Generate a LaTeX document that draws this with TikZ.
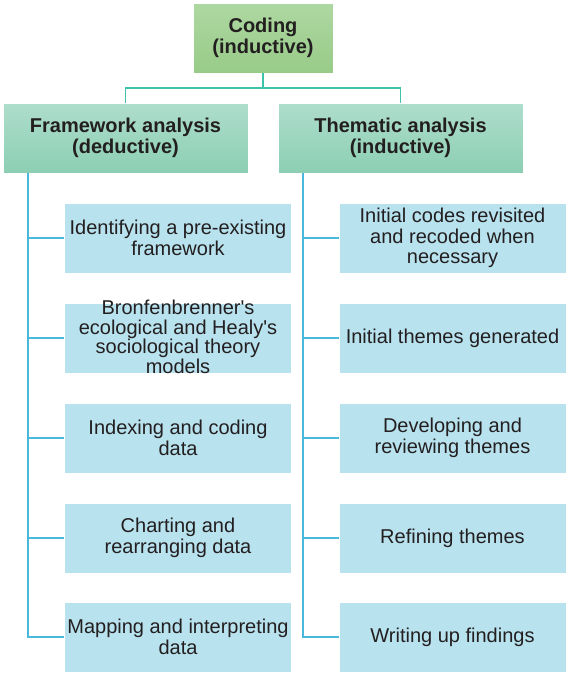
\documentclass[tikz,border=0pt]{standalone}
\usepackage{fontspec}
\setmainfont{Liberation Sans}
\definecolor{topA}{HTML}{AED8A2}
\definecolor{topB}{HTML}{98CB88}
\definecolor{hdA}{HTML}{AEDDCC}
\definecolor{hdB}{HTML}{8CCFB3}
\definecolor{boxC}{HTML}{B8E2EE}
\definecolor{tealL}{HTML}{3EC2AA}
\definecolor{blueL}{HTML}{4AB8DA}
\definecolor{txt}{HTML}{231F20}
\tikzset{
  topbox/.style={top color=topA, bottom color=topB, draw=white, line width=0.6pt, minimum width=140pt, minimum height=70pt, align=center, font=\bfseries\fontsize{20}{21}\selectfont, text=txt, inner sep=0pt},
  hdbox/.style={top color=hdA, bottom color=hdB, draw=white, line width=0.6pt, minimum width=245pt, minimum height=70pt, align=center, font=\bfseries\fontsize{20}{21}\selectfont, text=txt, inner sep=0pt},
  itembox/.style={fill=boxC, draw=white, line width=0.6pt, minimum width=227pt, minimum height=70pt, align=center, font=\fontsize{20}{20.5}\selectfont, text=txt, inner sep=0pt},
  itemtext/.style={align=center, font=\fontsize{20}{19.5}\selectfont, text=txt, inner sep=0pt},
  tline/.style={draw=tealL, line width=1.8pt},
  bline/.style={draw=blueL, line width=1.8pt}
}
\begin{document}
\begin{tikzpicture}[x=1pt,y=-1pt]
\useasboundingbox (0,0) rectangle (570,681);
\node[topbox] (top) at (263,38) {Coding\\(inductive)};
\node[hdbox] (lh) at (125.5,138) {Framework analysis\\(deductive)};
\node[hdbox] (rh) at (400.5,138) {Thematic analysis\\(inductive)};

\node[itembox] (l1) at (178,238) {Identifying a pre-existing\\framework};
\node[itembox] (l2) at (178,338) {};
\node[itemtext] (l2t) at (178,337) {Bronfenbrenner\textquotesingle s\\ecological and Healy\textquotesingle s\\sociological theory\\models};
\node[itembox] (l3) at (178,438) {Indexing and coding\\data};
\node[itembox] (l4) at (178,538) {Charting and\\rearranging data};
\node[itembox] (l5) at (178,637) {Mapping and interpreting\\data};

\node[itembox] (r1) at (452.5,238) {Initial codes revisited\\and recoded when\\necessary};
\node[itembox] (r2) at (452.5,338) {Initial themes generated};
\node[itembox] (r3) at (452.5,438) {Developing and\\reviewing themes};
\node[itembox] (r4) at (452.5,538) {Refining themes};
\node[itembox] (r5) at (452.5,637) {Writing up findings};

\coordinate (j) at (263,88);
\draw[tline] (top.south) -- (j);
\draw[tline] (j) -| (lh.north);
\draw[tline] (j) -| (rh.north);

\coordinate (lt) at (28,173);
\coordinate (rt) at (303,173);
\draw[bline] (lt) |- (l5.west);
\foreach \n in {l1,l2,l3,l4} \draw[bline] (\n.west -| lt) -- (\n.west);
\draw[bline] (rt) |- (r5.west);
\foreach \n in {r1,r2,r3,r4} \draw[bline] (\n.west -| rt) -- (\n.west);
\end{tikzpicture}
\end{document}
